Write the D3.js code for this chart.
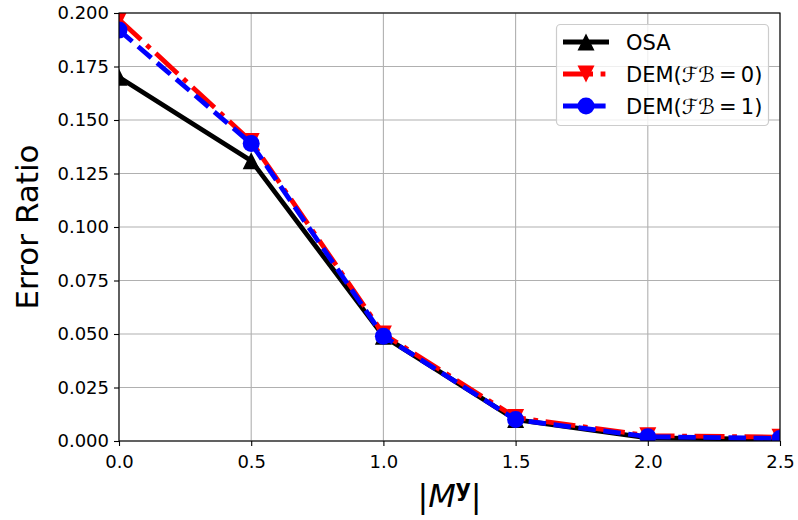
<!DOCTYPE html>
<html>
<head>
<meta charset="utf-8">
<script src="https://cdn.jsdelivr.net/npm/d3@7"></script>
<style>
  html, body { margin: 0; padding: 0; background: #fff; }
  svg { display: block; font-family: "DejaVu Sans", sans-serif; }
</style>
</head>
<body>
<svg id="chart" width="798" height="520"></svg>
<script>
// Error ratio versus |M^y| for the three methods
const xValues = [0.0, 0.5, 1.0, 1.5, 2.0, 2.5];
const osaValues = [0.170, 0.131, 0.049, 0.010, 0.0015, 0.0008];
const dem0Values = [0.197, 0.140, 0.050, 0.011, 0.0025, 0.0018];
const dem1Values = [0.192, 0.139, 0.049, 0.010, 0.002, 0.0012];
const xTicks = [0.0, 0.5, 1.0, 1.5, 2.0, 2.5];
const yTicks = [0.000, 0.025, 0.050, 0.075, 0.100, 0.125, 0.150, 0.175, 0.200];

const svg = d3.select("#chart");
const plot = { left: 119, right: 780, top: 13, bottom: 441 };

const x = d3.scaleLinear().domain([0, 2.5]).range([plot.left, plot.right]);
const y = d3.scaleLinear().domain([0, 0.2]).range([plot.bottom, plot.top]);

// clip region for the data marks
svg.append("defs").append("clipPath").attr("id", "plotClip")
  .append("rect")
  .attr("x", plot.left).attr("y", plot.top)
  .attr("width", plot.right - plot.left).attr("height", plot.bottom - plot.top);

// grid
const grid = svg.append("g");
grid.selectAll("line.gx").data(xTicks).join("line")
  .attr("x1", d => x(d)).attr("x2", d => x(d))
  .attr("y1", plot.top).attr("y2", plot.bottom)
  .attr("stroke", "#b0b0b0").attr("stroke-width", 1.1);
grid.selectAll("line.gy").data(yTicks).join("line")
  .attr("y1", d => y(d)).attr("y2", d => y(d))
  .attr("x1", plot.left).attr("x2", plot.right)
  .attr("stroke", "#b0b0b0").attr("stroke-width", 1.1);

// axes
const xAxis = d3.axisBottom(x).tickValues(xTicks).tickFormat(d3.format(".1f"))
  .tickSize(5).tickSizeOuter(0).tickPadding(5);
const yAxis = d3.axisLeft(y).tickValues(yTicks).tickFormat(d3.format(".3f"))
  .tickSize(5).tickSizeOuter(0).tickPadding(5);

const gx = svg.append("g").attr("transform", `translate(0,${plot.bottom})`).call(xAxis);
const gy = svg.append("g").attr("transform", `translate(${plot.left},0)`).call(yAxis);
[gx, gy].forEach(g => {
  g.select(".domain").remove();
  g.selectAll(".tick line").attr("stroke", "#000").attr("stroke-width", 1.1);
  g.selectAll(".tick text").attr("fill", "#000")
    .style("font-family", "DejaVu Sans").style("font-size", "18px");
});
gx.selectAll(".tick text").attr("dy", "0.95em");

// series
const lw = 4.8;
const series = [
  { name: "OSA", values: osaValues, color: "#000000", dash: null, marker: "triUp" },
  { name: "DEM0", values: dem0Values, color: "#ff0000", dash: "30,7.6,4.8,7.6", marker: "triDown" },
  { name: "DEM1", values: dem1Values, color: "#0000ff", dash: "17.5,7.6", marker: "circle" }
];

const line = d3.line().x(d => x(d[0])).y(d => y(d[1]));
const dataLayer = svg.append("g").attr("clip-path", "url(#plotClip)");

function drawMarker(g, kind, cx, cy, color) {
  if (kind === "circle") {
    g.append("circle").attr("cx", cx).attr("cy", cy).attr("r", 8.5).attr("fill", color);
  } else if (kind === "triUp") {
    const s = 8.5;
    g.append("path")
      .attr("d", `M${cx},${cy - s} L${cx + s},${cy + s} L${cx - s},${cy + s} Z`)
      .attr("fill", color);
  } else {
    const s = 8.5;
    g.append("path")
      .attr("d", `M${cx},${cy + s} L${cx + s},${cy - s} L${cx - s},${cy - s} Z`)
      .attr("fill", color);
  }
}

series.forEach(s => {
  const pts = xValues.map((xv, i) => [xv, s.values[i]]);
  const g = dataLayer.append("g");
  g.append("path").datum(pts)
    .attr("d", line)
    .attr("fill", "none")
    .attr("stroke", s.color)
    .attr("stroke-width", lw)
    .attr("stroke-linejoin", "round")
    .attr("stroke-dasharray", s.dash);
  pts.forEach(p => drawMarker(g, s.marker, x(p[0]), y(p[1]), s.color));
});

// frame
svg.append("rect")
  .attr("x", plot.left).attr("y", plot.top)
  .attr("width", plot.right - plot.left).attr("height", plot.bottom - plot.top)
  .attr("fill", "none").attr("stroke", "#000").attr("stroke-width", 1.1);

// axis titles
svg.append("text")
  .attr("transform", `translate(38,${(plot.top + plot.bottom) / 2}) rotate(-90)`)
  .attr("text-anchor", "middle")
  .style("font-size", "31px")
  .text("Error Ratio");

const xl = svg.append("text")
  .attr("x", (plot.left + plot.right) / 2).attr("y", 507)
  .attr("text-anchor", "middle")
  .style("font-size", "32px");
xl.append("tspan").text("|");
xl.append("tspan").style("font-style", "italic").text("M");
xl.append("tspan").attr("dy", -11).style("font-weight", "bold").style("font-size", "23px").text("y");
xl.append("tspan").attr("dy", 11).text("|");

// legend
const legend = svg.append("g");
legend.append("rect")
  .attr("x", 556.5).attr("y", 24.5).attr("width", 212).attr("height", 101)
  .attr("rx", 4).attr("fill", "#fff").attr("fill-opacity", 0.8)
  .attr("stroke", "#cccccc").attr("stroke-width", 1.2);

const legendLabels = [
  ["OSA"],
  ["DEM(", "ℱℬ", "\u2009=\u20090)"],
  ["DEM(", "ℱℬ", "\u2009=\u20091)"]
];
const rowY = [42, 74, 106];
series.forEach((s, i) => {
  const ry = rowY[i];
  legend.append("line")
    .attr("x1", 563).attr("x2", 609).attr("y1", ry).attr("y2", ry)
    .attr("stroke", s.color).attr("stroke-width", lw)
    .attr("stroke-dasharray", s.dash);
  drawMarker(legend, s.marker, 586, ry, s.color);
  const t = legend.append("text").attr("x", 626).attr("y", ry).attr("dy", "0.36em")
    .style("font-size", "21px");
  legendLabels[i].forEach((part, j) => {
    const ts = t.append("tspan").text(part);
    if (j === 1) ts.style("font-style", "italic");
  });
});
</script>
</body>
</html>
